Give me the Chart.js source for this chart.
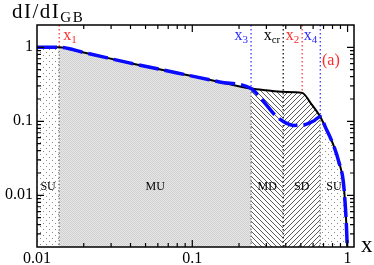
<!DOCTYPE html>
<html>
<head>
<meta charset="utf-8">
<script src="https://cdn.jsdelivr.net/npm/chart.js@4.4.1/dist/chart.umd.min.js"></script>
<style>
  html, body { margin: 0; padding: 0; background: #fff; }
  canvas { display: block; }
</style>
</head>
<body>
<canvas id="chart" width="374" height="265"></canvas>
<script>
// ---- data ----
const xBlack = [0.01, 0.0139, 0.02, 0.04, 0.08, 0.15, 0.239, 0.3, 0.385, 0.51, 0.58, 0.667, 0.72, 0.816, 0.88, 0.938, 0.97, 0.985, 1.0];
const yBlack = [1, 1, 0.85, 0.61, 0.45, 0.34, 0.277, 0.262, 0.25, 0.242, 0.175, 0.115, 0.083, 0.046, 0.028, 0.0155, 0.0065, 0.0035, 0.0015];
const xBlue = [0.01, 0.0139, 0.02, 0.04, 0.08, 0.15, 0.239, 0.275, 0.344, 0.4, 0.45, 0.53, 0.6, 0.667, 0.72, 0.816, 0.88, 0.938, 0.97, 0.985, 1.0];
const yBlue = [1, 1, 0.85, 0.61, 0.45, 0.34, 0.277, 0.207, 0.119, 0.095, 0.088, 0.09, 0.1, 0.115, 0.083, 0.046, 0.028, 0.0155, 0.0065, 0.0035, 0.0015];

// region boundaries and names
const regionEdges = [0.01, 0.0139, 0.239, 0.385, 0.667, 1.0];
const regionNames = ["SU", "MU", "MD", "SD", "SU"];

// marked x positions
const markX = [0.0139, 0.239, 0.385, 0.51, 0.667];
const markSub = ["1", "3", "cr", "2", "4"];
const markColor = ["#ff2a2a", "#2a2aff", "#000000", "#ff2a2a", "#2a2aff"];

// ticks
const xMajor = [0.01, 0.1, 1];
const xTickLabels = ["0.01", "0.1", "1"];
const xMinor = [0.02, 0.03, 0.04, 0.05, 0.06, 0.07, 0.08, 0.09, 0.2, 0.3, 0.4, 0.5, 0.6, 0.7, 0.8, 0.9];
const yMajor = [0.01, 0.1, 1];
const yTickLabels = ["0.01", "0.1", "1"];
const yMinor = [0.003, 0.004, 0.005, 0.006, 0.007, 0.008, 0.009, 0.02, 0.03, 0.04, 0.05, 0.06, 0.07, 0.08, 0.09, 0.2, 0.3, 0.4, 0.5, 0.6, 0.7, 0.8, 0.9];

const xMin = 0.01, xMax = 1.1, yMin = 0.002, yMax = 2;
const serif = "'Liberation Serif', 'DejaVu Serif', serif";

// ---- fill patterns ----
function makePattern(size, draw) {
  const c = document.createElement("canvas");
  c.width = c.height = size;
  const g = c.getContext("2d");
  g.fillStyle = "#fff";
  g.fillRect(0, 0, size, size);
  draw(g, size);
  return g.createPattern(c, "repeat");
}
const dots = makePattern(6, (g) => {
  g.fillStyle = "#8a8a8a";
  g.fillRect(1, 1, 1, 1);
  g.fillRect(4, 4, 1, 1);
});
const checker = makePattern(2, (g) => {
  g.fillStyle = "#e6e6e6";
  g.fillRect(0, 0, 2, 2);
  g.fillStyle = "#d0d0d0";
  g.fillRect(0, 0, 1, 1);
  g.fillRect(1, 1, 1, 1);
});
const hatchBack = makePattern(5, (g, n) => {
  g.fillStyle = "#5a5a5a";
  for (let i = 0; i < n; i++) g.fillRect(i, i, 1, 1);
});
const hatchFwd = makePattern(5, (g, n) => {
  g.fillStyle = "#5a5a5a";
  for (let i = 0; i < n; i++) g.fillRect(n - 1 - i, i, 1, 1);
});
const regionFill = [dots, checker, hatchBack, hatchFwd, dots];

function pts(xs, ys) {
  return xs.map((x, i) => ({ x: x, y: ys[i] }));
}
function blackAt(x) {
  return yBlack[xBlack.indexOf(x)];
}

// ---- datasets (lower order is drawn on top) ----
const datasets = [];
// shaded regions under the black curve
regionNames.forEach((name, r) => {
  const a = regionEdges[r], b = regionEdges[r + 1];
  const data = pts(xBlack, yBlack).filter((p) => p.x >= a && p.x <= b);
  datasets.push({
    order: 4,
    data: data,
    borderWidth: 0,
    borderColor: "rgba(0,0,0,0)",
    backgroundColor: regionFill[r],
    fill: "start",
    cubicInterpolationMode: "monotone",
    pointRadius: 0
  });
});
// dotted vertical markers
markX.forEach((x, i) => {
  const yc = blackAt(x);
  const full = markSub[i] === "cr";
  datasets.push({
    order: 3,
    data: [{ x: x, y: yMax }, { x: x, y: full ? yMin : yc }],
    borderColor: markColor[i],
    borderWidth: 1.2,
    borderDash: [1.5, 2.5],
    fill: false,
    pointRadius: 0
  });
  if (!full && x !== 0.51) {
    datasets.push({
      order: 3,
      data: [{ x: x, y: yc }, { x: x, y: yMin }],
      borderColor: "#707070",
      borderWidth: 1.2,
      borderDash: [1.5, 2],
      fill: false,
      pointRadius: 0
    });
  }
});
// curves
datasets.push({
  order: 2,
  data: pts(xBlack, yBlack),
  borderColor: "#000",
  borderWidth: 2,
  fill: false,
  cubicInterpolationMode: "monotone",
  pointRadius: 0
});
datasets.push({
  order: 1,
  data: pts(xBlue, yBlue),
  borderColor: "#0a0aff",
  borderWidth: 3.5,
  borderDash: [20, 6],
  fill: false,
  cubicInterpolationMode: "monotone",
  pointRadius: 0
});

// ---- frame, ticks and text ----
const decorations = {
  id: "decorations",
  afterDatasetsDraw(chart) {
    const { ctx, chartArea: a, scales } = chart;
    const sx = scales.x, sy = scales.y;
    ctx.save();
    ctx.strokeStyle = "#000";
    ctx.lineWidth = 1.5;
    ctx.strokeRect(a.left, a.top, a.right - a.left, a.bottom - a.top);
    ctx.lineWidth = 1.2;
    ctx.beginPath();
    const tick = (vals, len) => {
      vals.forEach((v) => {
        const px = sx.getPixelForValue(v);
        if (px > a.left && px < a.right) {
          ctx.moveTo(px, a.bottom); ctx.lineTo(px, a.bottom - len);
          ctx.moveTo(px, a.top); ctx.lineTo(px, a.top + len);
        }
      });
    };
    const tickY = (vals, len) => {
      vals.forEach((v) => {
        const py = sy.getPixelForValue(v);
        if (py > a.top && py < a.bottom) {
          ctx.moveTo(a.left, py); ctx.lineTo(a.left + len, py);
          ctx.moveTo(a.right, py); ctx.lineTo(a.right - len, py);
        }
      });
    };
    tick(xMajor, 7); tick(xMinor, 4);
    tickY(yMajor, 7); tickY(yMinor, 4);
    ctx.stroke();

    // marker labels x_1 ...
    const subLabel = (x, y, sub, color, align) => {
      ctx.font = "16px " + serif;
      const w1 = ctx.measureText("x").width;
      ctx.font = "11px " + serif;
      const w2 = ctx.measureText(sub).width;
      const x0 = align === "left" ? x : x - w1 - w2;
      ctx.fillStyle = color;
      ctx.textAlign = "left";
      ctx.textBaseline = "alphabetic";
      ctx.font = "16px " + serif;
      ctx.fillText("x", x0, y);
      ctx.font = "11px " + serif;
      ctx.fillText(sub, x0 + w1, y + 3);
    };
    markX.forEach((x, i) => {
      const px = sx.getPixelForValue(x);
      if (i === 0) subLabel(px + 4, 40, markSub[i], markColor[i], "left");
      else subLabel(px - 3, 40, markSub[i], markColor[i], "right");
    });

    ctx.fillStyle = "#ff2a2a";
    ctx.font = "16px " + serif;
    ctx.textAlign = "left";
    ctx.fillText("(a)", 322, 65);

    // region names
    ctx.fillStyle = "#000";
    ctx.font = "12px " + serif;
    ctx.textAlign = "center";
    regionNames.forEach((name, r) => {
      const p0 = sx.getPixelForValue(regionEdges[r]);
      const p1 = sx.getPixelForValue(Math.min(regionEdges[r + 1], 1));
      ctx.fillText(name, (p0 + p1) / 2, 190);
    });

    // axis titles
    ctx.textAlign = "left";
    ctx.letterSpacing = "1.5px";
    ctx.font = "21px " + serif;
    ctx.fillText("dI/dI", 12, 18);
    const tw = ctx.measureText("dI/dI").width;
    ctx.font = "15px " + serif;
    ctx.fillText("GB", 12 + tw, 22);
    ctx.letterSpacing = "0px";
    ctx.font = "23px " + serif;
    ctx.fillText("x", 361, 252);
    ctx.restore();
  }
};

new Chart(document.getElementById("chart"), {
  type: "line",
  data: { datasets: datasets },
  plugins: [decorations],
  options: {
    responsive: false,
    animation: false,
    events: [],
    layout: { padding: { top: 25, right: 20, left: 0, bottom: 0 } },
    plugins: { legend: { display: false }, tooltip: { enabled: false } },
    scales: {
      x: {
        type: "logarithmic",
        min: xMin,
        max: xMax,
        afterBuildTicks: (s) => { s.ticks = xMajor.map((v) => ({ value: v })); },
        afterFit: (s) => { s.height = 18; },
        grid: { display: false, drawTicks: false },
        border: { display: false },
        ticks: {
          autoSkip: false,
          maxRotation: 0,
          padding: 2,
          color: "#000",
          font: { family: serif, size: 16 },
          callback: (v, i) => xTickLabels[i]
        }
      },
      y: {
        type: "logarithmic",
        min: yMin,
        max: yMax,
        afterBuildTicks: (s) => { s.ticks = yMajor.map((v) => ({ value: v })); },
        afterFit: (s) => { s.width = 37; },
        grid: { display: false, drawTicks: false },
        border: { display: false },
        ticks: {
          autoSkip: false,
          padding: 4,
          color: "#000",
          font: { family: serif, size: 16 },
          callback: (v, i) => yTickLabels[i]
        }
      }
    }
  }
});
</script>
</body>
</html>
